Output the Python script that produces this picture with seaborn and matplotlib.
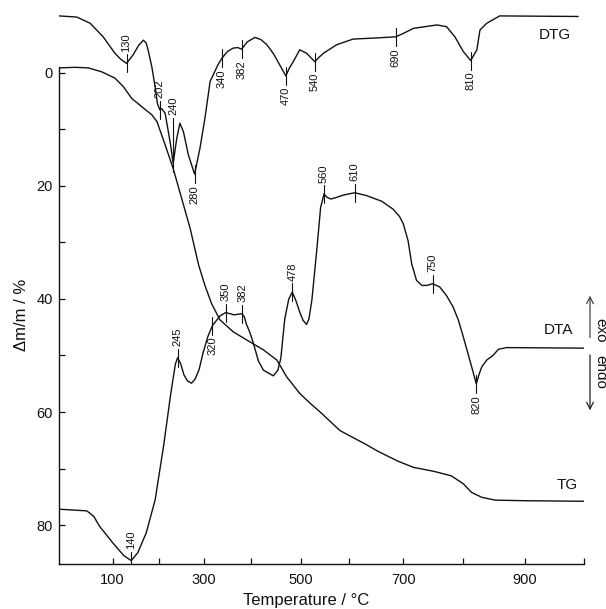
import numpy as np
import pandas as pd
import matplotlib
matplotlib.use("Agg")
import matplotlib.pyplot as plt
import matplotlib.transforms as mtransforms
from matplotlib.ticker import NullLocator
import seaborn as sns

# ---------------- data ----------------
TG_T = [-15, 20, 48, 77, 105, 123, 141, 166, 184, 195, 213, 231, 250, 269, 288, 302,
        316, 334, 362, 398, 425, 452, 472, 498, 520, 540, 581, 632, 654, 690, 717,
        751, 780, 800, 813, 830, 852, 900, 1000]
TG_V = [-0.9, -1.0, -0.9, -0.2, 0.9, 2.4, 4.5, 6.2, 7.4, 8.6, 12.7, 16.9, 22.2, 27.5,
        34.0, 37.6, 40.8, 43.7, 45.8, 47.6, 49.0, 50.8, 53.8, 56.7, 58.5, 60.0, 63.3,
        65.8, 67.0, 68.7, 69.8, 70.5, 71.3, 72.7, 74.2, 75.1, 75.6, 75.7, 75.8]

DTA_T = [-15, 45, 60, 72, 100, 124, 140, 154, 172, 191, 210, 225, 236, 241, 248, 255,
         263, 272, 280, 289, 298, 308, 318, 334, 346, 364, 381, 386, 390, 398, 405,
         415, 425, 445, 454, 460, 468, 476, 483, 490, 498, 505, 512, 517, 523, 533,
         541, 548, 554, 562, 571, 588, 610, 632, 660, 681, 693, 700, 708, 714, 722,
         731, 739, 749, 761, 772, 783, 792, 800, 812, 821, 826, 830, 838, 848, 857,
         870, 1000]
DTA_V = [77.2, 77.5, 78.5, 80.2, 83.1, 85.4, 86.3, 84.9, 81.4, 75.6, 65.8, 57.1, 51.5,
         50.4, 51.5, 53.4, 54.5, 54.9, 54.2, 52.5, 49.5, 46.7, 44.7, 43.0, 42.4, 42.8,
         42.6, 43.2, 44.4, 46.0, 47.9, 51.0, 52.6, 53.6, 52.6, 50.5, 43.5, 40.0, 38.8,
         40.2, 42.3, 43.8, 44.5, 43.5, 40.2, 31.4, 23.8, 21.4, 22.0, 22.3, 22.1, 21.6,
         21.2, 21.7, 22.7, 24.1, 25.4, 26.7, 29.7, 33.8, 36.7, 37.6, 37.6, 37.3, 37.9,
         39.4, 41.4, 43.8, 46.7, 51.4, 55.0, 53.2, 52.0, 50.8, 50.0, 48.9, 48.6, 48.7]

DTG_T = [-15, 23, 52, 80, 105, 118, 130, 144, 156, 166, 172, 176, 184, 191, 196, 201,
         205, 213, 225, 231, 239, 246, 254, 265, 279, 291, 302, 313, 330, 338, 350,
         362, 372, 380, 392, 408, 420, 432, 446, 458, 470, 478, 485, 498, 512, 529,
         538, 547, 574, 607, 650, 686, 700, 717, 756, 772, 786, 800, 812, 822, 827,
         838, 859, 990]
DTG_V = [-10.1, -9.9, -8.8, -6.4, -3.5, -2.4, -1.7, -3.2, -4.9, -5.8, -5.3, -4.1, -1.1,
         2.4, 5.4, 6.5, 6.3, 7.1, 12.6, 16.0, 11.6, 8.9, 10.4, 14.5, 17.9, 13.3, 8.0,
         1.5, -1.5, -2.6, -3.8, -4.4, -4.5, -4.2, -5.5, -6.3, -5.9, -5.0, -3.3, -1.4,
         0.5, -1.0, -2.0, -4.1, -3.5, -2.0, -2.8, -3.5, -5.0, -6.0, -6.2, -6.4, -7.0,
         -7.9, -8.5, -8.2, -6.4, -3.8, -2.2, -4.1, -7.6, -8.8, -10.1, -10.0]

# peak annotations: where the mark sits, and the printed label
DTG_MARK_AT = [130, 201, 231, 279, 338, 380, 470, 529, 686, 812]
DTG_MARK_LABEL = ["130", "202", "240", "280", "340", "382", "470", "540", "690", "810"]
DTA_MARK_AT = [140, 241, 318, 346, 381, 483, 548, 610, 749, 821]
DTA_MARK_LABEL = ["140", "245", "320", "350", "382", "478", "560", "610", "750", "820"]

X_TICKS = [100, 200, 300, 400, 500, 600, 700, 800, 900, 1000]
X_TICK_LABELS = ["100", "", "300", "", "500", "", "700", "", "900", ""]
Y_TICKS = [0, 20, 40, 60, 80]
Y_MINOR = [10, 30, 50, 70]

# ---------------- styling / layout ----------------
INK = "#111111"
DTG_SIDES = ["up", "up", "up", "down", "down", "down", "down", "down", "down", "down"]
DTA_SIDES = ["up", "up", "down", "up", "up", "up", "up", "up", "up", "down"]
LEADS = {("DTG", "240"): 6.5}

# the instrument's temperature axis is not linear: knots of the stretch
AXIS_T = [-15, 100, 200, 300, 400, 500, 600, 700, 800, 900, 1000]
AXIS_POS = [59, 112.5, 159.3, 204, 251, 300.7, 349.3, 403.3, 463.3, 525, 584]


def fwd(t):
    t = np.asarray(t, dtype=float)
    return np.interp(t, AXIS_T, AXIS_POS, left=np.nan, right=np.nan) if False else \
        np.interp(t, AXIS_T, AXIS_POS)


def inv(p):
    p = np.asarray(p, dtype=float)
    return np.interp(p, AXIS_POS, AXIS_T)


sns.set_theme(style="ticks")
plt.rcParams["font.family"] = ["Liberation Sans", "DejaVu Sans"]

fig = plt.figure(figsize=(6.06, 6.09), dpi=100)
ax = fig.add_axes([59 / 606, (609 - 564) / 609, 525 / 606, 556 / 609])
ax.set_xscale("function", functions=(fwd, inv))

tg = pd.DataFrame({"T": TG_T, "v": TG_V})
dta = pd.DataFrame({"T": DTA_T, "v": DTA_V})
dtg = pd.DataFrame({"T": DTG_T, "v": DTG_V})
for d in (tg, dta, dtg):
    sns.lineplot(data=d, x="T", y="v", ax=ax, color=INK, lw=1.0,
                 sort=False, estimator=None)

ax.set_xlim(-15, 1000)
ax.set_ylim(86.9, -11.5)


def mark(name, T, label, cT, cV, side):
    y0 = float(np.interp(T, cT, cV))
    half = 1.6
    lead = LEADS.get((name, label), 0.0)
    if side == "up":
        y_a, y_b = y0 + half, y0 - half - lead
        ax.plot([T, T], [y_a, y_b], color=INK, lw=0.8)
        ax.text(T, y_b - 0.4, label, rotation=90, ha="center", va="bottom",
                fontsize=8, color=INK)
    else:
        y_a, y_b = y0 - half, y0 + half + lead
        ax.plot([T, T], [y_a, y_b], color=INK, lw=0.8)
        ax.text(T, y_b + 0.4, label, rotation=90, ha="center", va="top",
                fontsize=8, color=INK)


for T, lab, s in zip(DTG_MARK_AT, DTG_MARK_LABEL, DTG_SIDES):
    mark("DTG", T, lab, DTG_T, DTG_V, s)
for T, lab, s in zip(DTA_MARK_AT, DTA_MARK_LABEL, DTA_SIDES):
    mark("DTA", T, lab, DTA_T, DTA_V, s)

# curve names
ax.text(950, -6.7, "DTG", ha="center", va="center", fontsize=11, color=INK)
ax.text(957, 45.5, "DTA", ha="center", va="center", fontsize=11, color=INK)
ax.text(971, 73.0, "TG", ha="center", va="center", fontsize=11, color=INK)

# exo / endo arrows
trans = mtransforms.blended_transform_factory(ax.transAxes, ax.transData)
xa = (590 - 59) / 525
ax.annotate("", xy=(xa, 38.9), xytext=(xa, 47.3), xycoords=trans, textcoords=trans,
            arrowprops=dict(arrowstyle="->", color="#444444", lw=0.9),
            annotation_clip=False)
ax.annotate("", xy=(xa, 60.2), xytext=(xa, 49.4), xycoords=trans, textcoords=trans,
            arrowprops=dict(arrowstyle="->", color="#222222", lw=0.9),
            annotation_clip=False)
xt = (600 - 59) / 525
ax.text(xt, 45.5, "exo", rotation=-90, ha="center", va="center", fontsize=11,
        transform=trans, color=INK)
ax.text(xt, 52.9, "endo", rotation=-90, ha="center", va="center", fontsize=11,
        transform=trans, color=INK)

# axes, ticks, labels
ax.set_xticks(X_TICKS)
ax.set_xticklabels(X_TICK_LABELS)
ax.xaxis.set_minor_locator(NullLocator())
ax.set_yticks(Y_TICKS)
ax.set_yticks(Y_MINOR, minor=True)
ax.tick_params(axis="both", which="both", direction="in", length=4, width=0.9,
               color=INK, labelcolor=INK, labelsize=10.5)
ax.tick_params(axis="x", pad=6.5)
ax.tick_params(axis="y", pad=4.5)

for s in ("top", "right"):
    ax.spines[s].set_visible(False)
for s in ("left", "bottom"):
    ax.spines[s].set_color(INK)
    ax.spines[s].set_linewidth(1.0)
ax.spines["left"].set_bounds(-1.1, 86.9)

ax.set_xlabel("Temperature / °C", fontsize=12, color=INK)
ax.set_ylabel("Δm/m / %", fontsize=12, color=INK)
ax.xaxis.set_label_coords((306 - 59) / 525, (564 - 600) / 556)
ax.xaxis.label.set_va("center")
ax.yaxis.set_label_coords((22 - 59) / 525, (564 - 315) / 556)
ax.yaxis.label.set_va("center")
ax.grid(False)

fig.savefig("out.png", dpi=100)
